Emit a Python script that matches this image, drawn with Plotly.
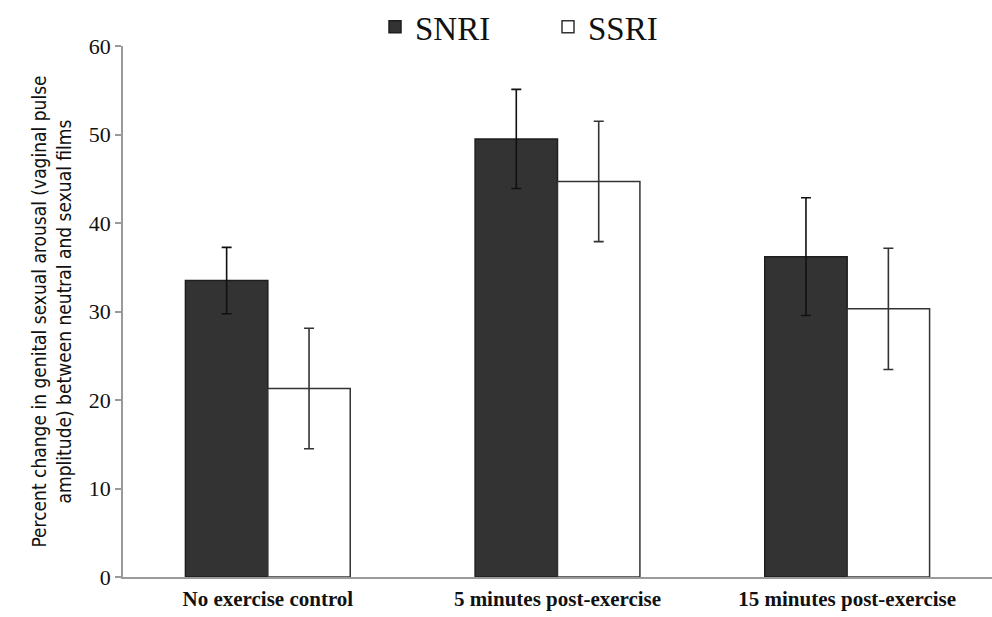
import plotly.graph_objects as go

categories = ["No exercise control", "5 minutes post-exercise", "15 minutes post-exercise"]
snri_values = [33.5, 49.5, 36.2]
snri_err = [3.75, 5.6, 6.65]
ssri_values = [21.3, 44.7, 30.3]
ssri_err = [6.8, 6.8, 6.85]
y_ticks = [0, 10, 20, 30, 40, 50, 60]

serif = "Liberation Serif, Times New Roman, serif"

fig = go.Figure()
fig.add_trace(go.Bar(
    name="SNRI", x=categories, y=snri_values,
    marker=dict(color="#333333", line=dict(color="#1e1e1e", width=1.5)),
    error_y=dict(type="data", array=snri_err, color="#111111", thickness=1.6, width=5),
))
fig.add_trace(go.Bar(
    name="SSRI", x=categories, y=ssri_values,
    marker=dict(color="#ffffff", line=dict(color="#333333", width=1.5)),
    error_y=dict(type="data", array=ssri_err, color="#333333", thickness=1.6, width=5),
))

fig.update_layout(
    width=992, height=617,
    margin=dict(l=123, r=0, t=46, b=40, autoexpand=False),
    paper_bgcolor="white", plot_bgcolor="white",
    barmode="group", bargap=0.431, bargroupgap=0,
    showlegend=True,
    legend=dict(orientation="h", x=0.29, xanchor="left", y=1.036, yanchor="middle",
                font=dict(family=serif, size=33, color="#111111"),
                entrywidth=128, entrywidthmode="pixels", traceorder="normal"),
    font=dict(family=serif, color="#111111"),
)
fig.update_xaxes(
    range=[-0.5, 2.5], showline=True, linecolor="#9a9a9a", linewidth=1.5,
    ticks="", tickfont=dict(family=serif, size=21, color="#111111", weight="bold"),
    ticklabelstandoff=2,
)
fig.update_yaxes(
    range=[0, 60], tickvals=y_ticks, showgrid=False, zeroline=False,
    showline=True, linecolor="#9a9a9a", linewidth=1.5,
    ticks="outside", ticklen=6, tickcolor="#9a9a9a", tickwidth=1.5,
    tickfont=dict(family=serif, size=22, color="#111111"),
    title=dict(text="Percent change in genital sexual arousal (vaginal pulse<br>amplitude) between neutral and sexual films",
               font=dict(family="Liberation Sans Narrow, DejaVu Sans Condensed, Lato, sans-serif", size=19, color="#111111"),
               standoff=12),
)

fig.write_html("out.html")
